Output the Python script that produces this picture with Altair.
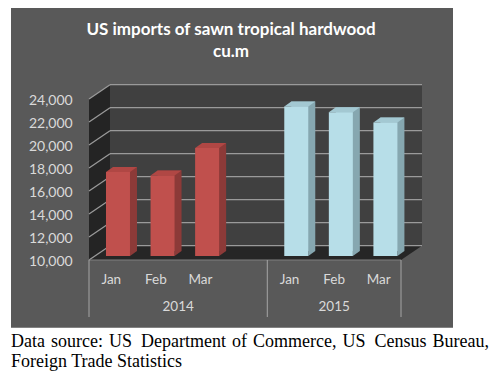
import altair as alt
import pandas as pd

# ---------------- data ----------------
months = ["Jan", "Feb", "Mar"]
years = ["2014", "2015"]
imports_2014 = [17300, 17000, 19400]
imports_2015 = [23000, 22500, 21600]
y_ticks = [10000, 12000, 14000, 16000, 18000, 20000, 22000, 24000]
title_lines = ["US imports of sawn tropical hardwood", "cu.m"]
caption_line1 = ["Data", "source:", "US", "Department", "of", "Commerce,", "US", "Census", "Bureau,"]
caption_line2 = "Foreign Trade Statistics"

# category slots (Excel leaves one empty column at the end of the 2014 group)
slots = [f"2014 {m}" for m in months] + ["2014 gap"] + [f"2015 {m}" for m in months]
rows = []
for yr, vals in zip(years, [imports_2014, imports_2015]):
    for m, v in zip(months, vals):
        rows.append({"year": yr, "month": m, "slot": f"{yr} {m}", "value": v})
bars = pd.DataFrame(rows)
ticks = pd.DataFrame({"v": y_ticks, "label": [f"{t:,}" for t in y_ticks]})
one = pd.DataFrame({"a": [0]})

# ---------------- layout (pixels, chart coordinates) ----------------
W, H = 483, 365
FX0, FX1 = 81, 393          # front edge of floor
DX = 21                     # depth of the 3-D box (horizontal)
FRONT_OFF, BACK_OFF = 4, -10.3
BAR_W, BAR_SHIFT = 24, 6.7
SIDE_DX, SIDE_DY = 7, 5
BASE_Y, TOP_Y = 248, 87

RED_FRONT, RED_SIDE, RED_TOP = "#c0504d", "#8c3a38", "#b04744"
BLUE_FRONT, BLUE_SIDE, BLUE_TOP = "#b7dee8", "#86a7b0", "#a3c8d2"
TXT = "#d9d9d9"
GRID = "#9a9a9a"
FONT = "Lato"

yscale = alt.Scale(domain=[10000, 24000], range=[BASE_Y, TOP_Y], zero=False, nice=False)
xscale = alt.Scale(domain=slots, range=[FX0, FX1], paddingInner=0, paddingOuter=0)


def Xs(**kw):
    return alt.X("slot:N", scale=xscale, axis=None, **kw)


def Yv(field="value:Q", **kw):
    return alt.Y(field, scale=yscale, axis=None, **kw)


def poly(points):
    return "M" + " L".join(f"{x:.2f},{y:.2f}" for x, y in points) + " Z"


def face(color):
    return alt.condition(alt.datum.year == "2014", alt.value(color[0]), alt.value(color[1]))


back_top = TOP_Y + BACK_OFF
back_bot = BASE_Y + BACK_OFF
front_top = TOP_Y + FRONT_OFF
front_bot = BASE_Y + FRONT_OFF

panel = alt.Chart(one).mark_rect(color="#595959").encode(
    x=alt.value(3), x2=alt.value(445), y=alt.value(0), y2=alt.value(319.7))

back_wall = alt.Chart(one).mark_rect(color="#404040", yOffset=BACK_OFF, y2Offset=BACK_OFF).encode(
    x=alt.value(FX0 + DX), x2=alt.value(FX1 + DX),
    y=alt.datum(24000, scale=yscale), y2=alt.datum(10000))

left_wall = alt.Chart(one).mark_point(
    shape=poly([(FX0, front_top), (FX0 + DX, back_top), (FX0 + DX, back_bot), (FX0, front_bot)]),
    size=4, filled=True, opacity=1, color="#242424").encode(x=alt.value(0), y=alt.value(0))

floor = alt.Chart(one).mark_point(
    shape=poly([(FX0 + DX, back_bot), (FX1 + DX, back_bot), (FX1, front_bot), (FX0, front_bot)]),
    size=4, filled=True, opacity=1, color="#262626").encode(x=alt.value(0), y=alt.value(0))

grid = alt.Chart(ticks).mark_rule(color=GRID, strokeWidth=1.3, yOffset=BACK_OFF).encode(
    y=alt.Y("v:Q", scale=yscale, axis=alt.Axis(
        values=y_ticks, labels=False, ticks=False, domain=False, grid=False, title=None)),
    x=alt.value(FX0 + DX), x2=alt.value(FX1 + DX))

diag = alt.Chart(ticks).mark_rule(color=GRID, strokeWidth=1.3, yOffset=FRONT_OFF, y2Offset=BACK_OFF).encode(
    y=Yv("v:Q"), y2=alt.Y2("v:Q"), x=alt.value(FX0), x2=alt.value(FX0 + DX))

y_labels = alt.Chart(ticks).mark_text(font=FONT, fontSize=14, color=TXT, align="right", baseline="middle",
                                      dy=5.5).encode(
    y=Yv("v:Q"), x=alt.value(64.7), text="label:N")

floor_edge = alt.Chart(one).mark_rule(color="#808080", strokeWidth=1).encode(
    x=alt.value(FX0), x2=alt.value(FX1), y=alt.value(front_bot))

sep_left = alt.Chart(pd.DataFrame({"slot": ["2014 Jan", "2015 Jan"]})).mark_rule(
    color="#a6a6a6", strokeWidth=1).encode(
    x=Xs(bandPosition=0), y=alt.value(front_bot), y2=alt.value(309))
sep_right = alt.Chart(pd.DataFrame({"slot": ["2015 Mar"]})).mark_rule(
    color="#a6a6a6", strokeWidth=1).encode(
    x=Xs(bandPosition=1), y=alt.value(front_bot), y2=alt.value(309))

bar_base = alt.Chart(bars)
side = bar_base.mark_bar(size=BAR_W, xOffset=BAR_SHIFT + SIDE_DX, yOffset=-SIDE_DY, y2Offset=-SIDE_DY).encode(
    x=Xs(), y=Yv(), y2=alt.datum(10000), color=face((RED_SIDE, BLUE_SIDE)))
top = bar_base.mark_point(
    shape=poly([(-BAR_W / 2, 0), (BAR_W / 2, 0), (BAR_W / 2 + SIDE_DX, -SIDE_DY), (-BAR_W / 2 + SIDE_DX, -SIDE_DY)]),
    size=4, filled=True, opacity=1, xOffset=BAR_SHIFT).encode(
    x=Xs(), y=Yv(), color=face((RED_TOP, BLUE_TOP)))
foot = bar_base.mark_point(
    shape=poly([(BAR_W / 2, 0), (BAR_W / 2, -SIDE_DY), (BAR_W / 2 + SIDE_DX, -SIDE_DY)]),
    size=4, filled=True, opacity=1, xOffset=BAR_SHIFT).encode(
    x=Xs(), y=alt.datum(10000), color=face((RED_SIDE, BLUE_SIDE)))
front = bar_base.mark_bar(size=BAR_W, xOffset=BAR_SHIFT).encode(
    x=Xs(), y=Yv(), y2=alt.datum(10000), color=face((RED_FRONT, BLUE_FRONT)))

month_lbl = bar_base.mark_text(font=FONT, fontSize=13.5, color=TXT, baseline="middle").encode(
    x=Xs(), y=alt.value(272), text="month:N")
year14 = alt.Chart(pd.DataFrame({"slot": ["2014 Feb"], "year": ["2014"]})).mark_text(
    font=FONT, fontSize=13.5, color=TXT, baseline="middle").encode(
    x=Xs(bandPosition=1), y=alt.value(299.3), text="year:N")
year15 = alt.Chart(pd.DataFrame({"slot": ["2015 Feb"], "year": ["2015"]})).mark_text(
    font=FONT, fontSize=13.5, color=TXT, baseline="middle").encode(
    x=Xs(bandPosition=0.5), y=alt.value(299.3), text="year:N")

title1 = alt.Chart(one).mark_text(text=title_lines[0], font=FONT, fontSize=17, fontWeight="bold",
                                  color="white", baseline="middle").encode(x=alt.value(223), y=alt.value(22))
title2 = alt.Chart(one).mark_text(text=title_lines[1], font=FONT, fontSize=17, fontWeight="bold",
                                  color="white", baseline="middle").encode(x=alt.value(223), y=alt.value(43.7))

# justified first caption line: word start positions (even inter-word gaps)
word_x = [3, 43, 101, 133, 224, 245, 334.5, 366.5, 424.5]
caption = []
for w, xw in zip(caption_line1, word_x):
    caption.append(alt.Chart(one).mark_text(text=w, font="Liberation Serif", fontSize=18, color="black",
                                            align="left", baseline="alphabetic").encode(
        x=alt.value(xw), y=alt.value(339)))
caption.append(alt.Chart(one).mark_text(text=caption_line2, font="Liberation Serif", fontSize=18, color="black",
                                        align="left", baseline="alphabetic").encode(
    x=alt.value(3), y=alt.value(358.7)))

chart = alt.layer(
    panel, back_wall, left_wall, floor, grid, diag, y_labels, floor_edge, sep_left, sep_right,
    side, top, foot, front, month_lbl, year14, year15, title1, title2, *caption
).properties(
    width=W, height=H, autosize=alt.AutoSizeParams(type="none"), padding=0, background="white"
).configure_view(stroke=None)

chart.save("out.html", embed_options={"renderer": "svg", "actions": False})
